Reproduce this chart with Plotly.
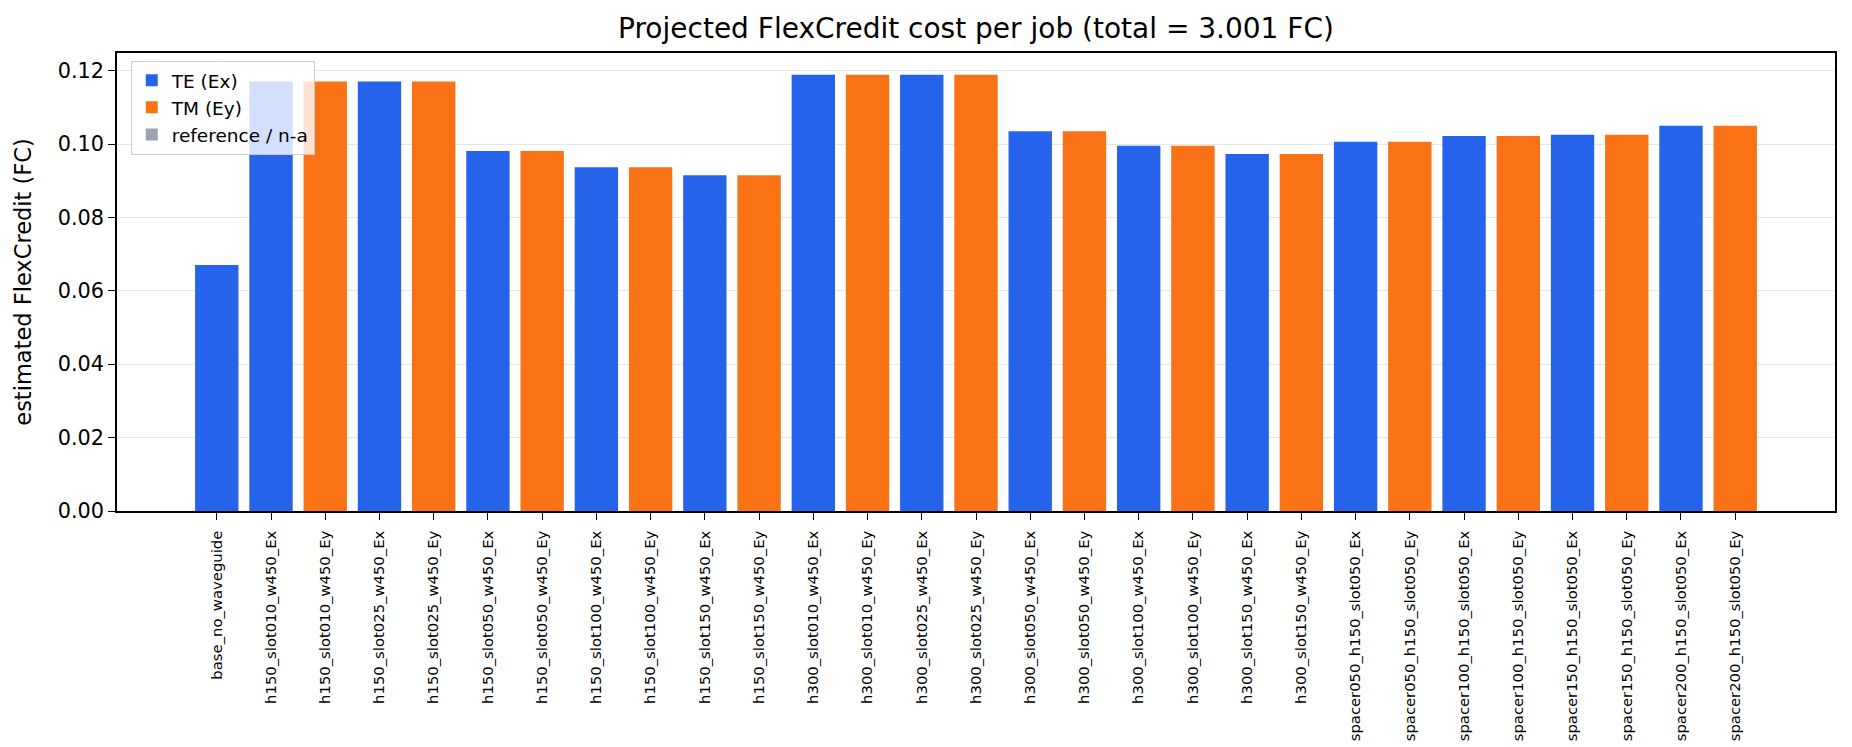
import plotly.graph_objects as go

# bar labels and estimated cost per job (FC)
labels = [
    "base_no_waveguide",
    "h150_slot010_w450_Ex", "h150_slot010_w450_Ey",
    "h150_slot025_w450_Ex", "h150_slot025_w450_Ey",
    "h150_slot050_w450_Ex", "h150_slot050_w450_Ey",
    "h150_slot100_w450_Ex", "h150_slot100_w450_Ey",
    "h150_slot150_w450_Ex", "h150_slot150_w450_Ey",
    "h300_slot010_w450_Ex", "h300_slot010_w450_Ey",
    "h300_slot025_w450_Ex", "h300_slot025_w450_Ey",
    "h300_slot050_w450_Ex", "h300_slot050_w450_Ey",
    "h300_slot100_w450_Ex", "h300_slot100_w450_Ey",
    "h300_slot150_w450_Ex", "h300_slot150_w450_Ey",
    "spacer050_h150_slot050_Ex", "spacer050_h150_slot050_Ey",
    "spacer100_h150_slot050_Ex", "spacer100_h150_slot050_Ey",
    "spacer150_h150_slot050_Ex", "spacer150_h150_slot050_Ey",
    "spacer200_h150_slot050_Ex", "spacer200_h150_slot050_Ey",
]
costs = [
    0.0670,
    0.1170, 0.1170,
    0.1170, 0.1170,
    0.0981, 0.0981,
    0.0937, 0.0937,
    0.0915, 0.0915,
    0.1189, 0.1189,
    0.1189, 0.1189,
    0.1035, 0.1035,
    0.0995, 0.0995,
    0.0973, 0.0973,
    0.1006, 0.1006,
    0.1022, 0.1022,
    0.1025, 0.1025,
    0.1050, 0.1050,
]
total_fc = 3.001

BLUE = "#2563eb"
ORANGE = "#f97316"
GRAY = "#9ca3af"
FONT = "DejaVu Sans"

te_x, te_y, tm_x, tm_y = [], [], [], []
for lab, c in zip(labels, costs):
    if lab.endswith("_Ey"):
        tm_x.append(lab)
        tm_y.append(c)
    else:
        te_x.append(lab)
        te_y.append(c)

fig = go.Figure()
fig.add_trace(go.Bar(x=te_x, y=te_y, name="TE (Ex)", marker_color=BLUE,
                     marker_line_width=0, width=0.8, legendgroup="te"))
fig.add_trace(go.Bar(x=tm_x, y=tm_y, name="TM (Ey)", marker_color=ORANGE,
                     marker_line_width=0, width=0.8, legendgroup="tm"))
# legend-only entry, no bars in this dataset
fig.add_trace(go.Bar(x=[labels[0]], y=[None], name="reference / n-a",
                     marker_color=GRAY, marker_line_width=0, width=0.8,
                     legendgroup="ref"))

n = len(labels)
L, R, T, B = 109, 25, 45, 244
fig.update_layout(
    width=1852, height=747,
    margin=dict(l=L, r=R, t=T, b=B),
    paper_bgcolor="white", plot_bgcolor="white",
    barmode="overlay",
    font=dict(family=FONT, color="black"),
    title=dict(text=f"Projected FlexCredit cost per job (total = {total_fc:.3f} FC)",
               x=(L + 1852 - R) / 2 / 1852, xanchor="center",
               y=1 - 20 / 747, yanchor="middle",
               font=dict(size=28, family=FONT)),
    legend=dict(x=0.008, y=0.983, xanchor="left", yanchor="top",
                bgcolor="rgba(255,255,255,0.8)", bordercolor="#cccccc",
                borderwidth=1, font=dict(size=18.5, family=FONT),
                traceorder="grouped", tracegroupgap=0),
    showlegend=True,
)
fig.update_xaxes(
    type="category", categoryorder="array", categoryarray=labels,
    range=[-1.84, n - 1 + 1.84],
    tickangle=-90, tickfont=dict(size=14.8, family=FONT),
    ticks="outside", ticklen=7, tickwidth=1.3, tickcolor="black",
    ticklabelstandoff=5,
    showline=True, linecolor="black", linewidth=1.6, mirror=True,
    showgrid=False, layer="above traces",
)
fig.update_yaxes(
    range=[0, 0.1248],
    tickvals=[0, 0.02, 0.04, 0.06, 0.08, 0.10, 0.12],
    tickformat=".2f",
    tickfont=dict(size=20.8, family=FONT),
    ticks="outside", ticklen=7, tickwidth=1.3, tickcolor="black",
    showline=True, linecolor="black", linewidth=1.6, mirror=True,
    showgrid=True, gridcolor="rgba(176,176,176,0.3)", gridwidth=1.3,
    zeroline=False, layer="above traces",
    title=dict(text="estimated FlexCredit (FC)", font=dict(size=22.5, family=FONT),
               standoff=20),
)

fig.write_html("out.html")
